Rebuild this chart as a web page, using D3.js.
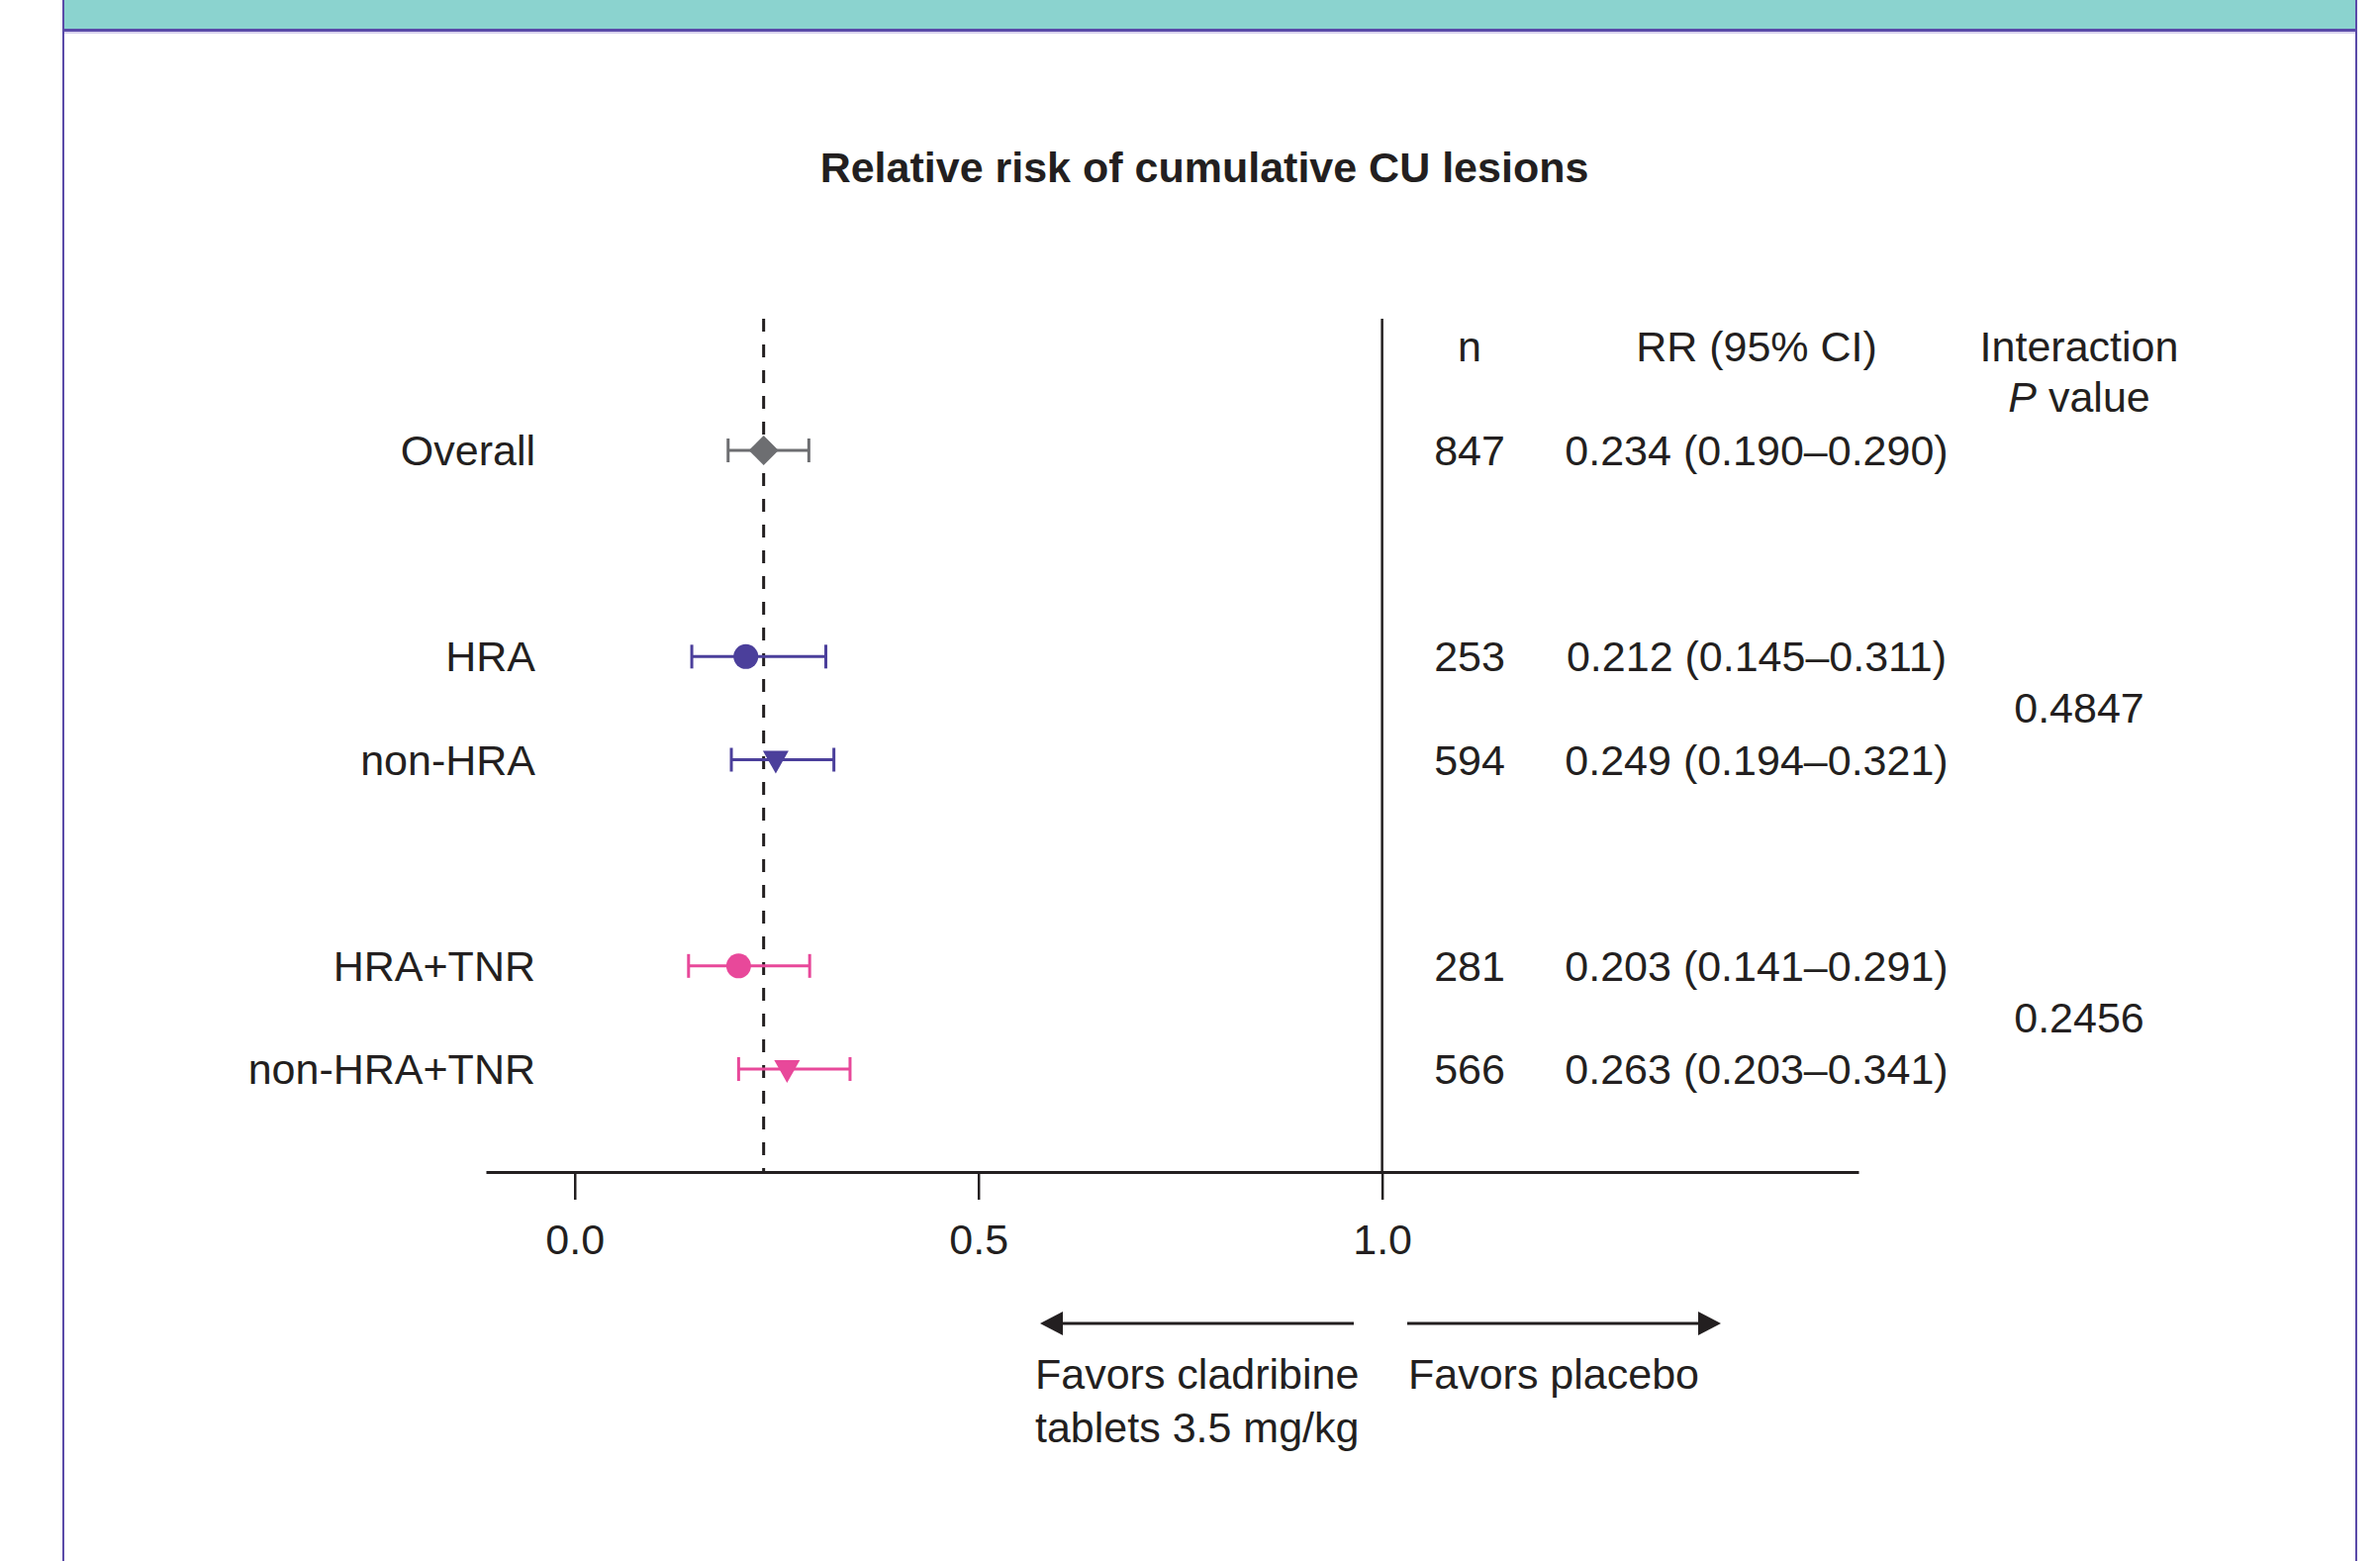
<!DOCTYPE html>
<html lang="en">
<head>
<meta charset="UTF-8">
<title>Relative risk of cumulative CU lesions</title>
<style>
    html, body {
        margin: 0;
        padding: 0;
        background: #ffffff;
    }
    svg text {
        font-family: 'Liberation Sans', Arial, sans-serif;
        font-size: 43px;
        fill: #231f20;
    }
</style>
</head>
<body>
<div id="chart"></div>

<script src="https://d3js.org/d3.v7.min.js"></script>
<script>
    // Subgroups, in order from top to bottom
    const groups = ["Overall", "HRA", "non-HRA", "HRA+TNR", "non-HRA+TNR"];
    const slots = [0, 2, 3, 5, 6];           // vertical slot of each row (gaps between blocks)
    const nValues = [847, 253, 594, 281, 566];
    const rr = [0.234, 0.212, 0.249, 0.203, 0.263];
    const ciLow = [0.190, 0.145, 0.194, 0.141, 0.203];
    const ciHigh = [0.290, 0.311, 0.321, 0.291, 0.341];
    const shapes = ["diamond", "circle", "triangle", "circle", "triangle"];
    const colorKey = ["overall", "hra", "hra", "tnr", "tnr"];

    // Interaction P values, one per pair of rows
    const pValues = ["0.4847", "0.2456"];
    const pRows = [[1, 2], [3, 4]];

    const tickValues = [0, 0.5, 1.0];

    const width = 2405;
    const height = 1577;

    const colors = {
        overall: "#6d6e71",
        hra: "#4b3f9b",
        tnr: "#e8489a"
    };

    const svg = d3.select("#chart")
        .append("svg")
        .attr("width", width)
        .attr("height", height);

    // Panel frame: teal band on top, purple borders
    svg.append("rect")
        .attr("x", 64).attr("y", 0)
        .attr("width", 2317).attr("height", 29)
        .attr("fill", "#8bd3cf");
    svg.append("rect")
        .attr("x", 64).attr("y", 29)
        .attr("width", 2317).attr("height", 3)
        .attr("fill", "#5a4aa8");
    svg.append("rect")
        .attr("x", 64).attr("y", 32)
        .attr("width", 2317).attr("height", 2)
        .attr("fill", "#d8d2ee");
    svg.append("line")
        .attr("x1", 64).attr("x2", 64)
        .attr("y1", 0).attr("y2", height)
        .attr("stroke", "#5a4aa8").attr("stroke-width", 2);
    svg.append("line")
        .attr("x1", 2381).attr("x2", 2381)
        .attr("y1", 0).attr("y2", height)
        .attr("stroke", "#5a4aa8").attr("stroke-width", 2);

    // Scales
    const x = d3.scaleLinear()
        .domain([-0.11, 1.59])
        .range([491, 1878]);

    const y = d3.scaleLinear()
        .domain([0, 6])
        .range([455, 1080]);

    const topY = 322;
    const axisY = 1184;

    // Title
    svg.append("text")
        .attr("x", 1217)
        .attr("y", 184)
        .attr("text-anchor", "middle")
        .style("font-weight", "bold")
        .text("Relative risk of cumulative CU lesions");

    // Axis
    const axis = d3.axisBottom(x)
        .tickValues(tickValues)
        .tickFormat(d3.format(".1f"))
        .tickSize(28)
        .tickSizeOuter(0)
        .tickPadding(24);

    const gAxis = svg.append("g")
        .attr("transform", `translate(0,${axisY})`)
        .call(axis);

    gAxis.select(".domain")
        .attr("stroke", "#231f20")
        .attr("stroke-width", 3);
    gAxis.selectAll(".tick line")
        .attr("stroke", "#231f20")
        .attr("stroke-width", 2.5);
    gAxis.selectAll(".tick text")
        .attr("font-size", null)
        .attr("font-family", null)
        .attr("fill", "#231f20");
    gAxis.attr("font-size", null).attr("font-family", null);

    // Reference line at 1.0 and dashed line at the overall RR
    svg.append("line")
        .attr("x1", x(1)).attr("x2", x(1))
        .attr("y1", topY).attr("y2", axisY)
        .attr("stroke", "#231f20")
        .attr("stroke-width", 2.5);

    svg.append("line")
        .attr("x1", x(rr[0])).attr("x2", x(rr[0]))
        .attr("y1", topY).attr("y2", axisY)
        .attr("stroke", "#231f20")
        .attr("stroke-width", 3)
        .attr("stroke-dasharray", "13,13");

    // Rows
    const rows = groups.map((g, i) => ({
        name: g,
        y: y(slots[i]),
        n: nValues[i],
        rr: rr[i],
        lo: ciLow[i],
        hi: ciHigh[i],
        shape: shapes[i],
        color: colors[colorKey[i]]
    }));

    const fmt = d3.format(".3f");
    const capHalf = 12;

    const row = svg.append("g")
        .selectAll("g")
        .data(rows)
        .enter().append("g");

    row.append("text")
        .attr("x", 541)
        .attr("y", d => d.y)
        .attr("dy", "0.35em")
        .attr("text-anchor", "end")
        .text(d => d.name);

    row.append("line")
        .attr("x1", d => x(d.lo)).attr("x2", d => x(d.hi))
        .attr("y1", d => d.y).attr("y2", d => d.y)
        .attr("stroke", d => d.color)
        .attr("stroke-width", 3);

    row.append("line")
        .attr("x1", d => x(d.lo)).attr("x2", d => x(d.lo))
        .attr("y1", d => d.y - capHalf).attr("y2", d => d.y + capHalf)
        .attr("stroke", d => d.color)
        .attr("stroke-width", 3);

    row.append("line")
        .attr("x1", d => x(d.hi)).attr("x2", d => x(d.hi))
        .attr("y1", d => d.y - capHalf).attr("y2", d => d.y + capHalf)
        .attr("stroke", d => d.color)
        .attr("stroke-width", 3);

    row.append("path")
        .attr("transform", d => `translate(${x(d.rr)},${d.y})`)
        .attr("fill", d => d.color)
        .attr("d", d => {
            if (d.shape === "diamond") return "M0,-15L15,0L0,15L-15,0Z";
            if (d.shape === "triangle") return "M-13,-9L13,-9L0,14Z";
            return d3.arc()({innerRadius: 0, outerRadius: 12.5, startAngle: 0, endAngle: 2 * Math.PI});
        });

    row.append("text")
        .attr("x", 1485)
        .attr("y", d => d.y)
        .attr("dy", "0.35em")
        .attr("text-anchor", "middle")
        .text(d => d.n);

    row.append("text")
        .attr("x", 1775)
        .attr("y", d => d.y)
        .attr("dy", "0.35em")
        .attr("text-anchor", "middle")
        .text(d => `${fmt(d.rr)} (${fmt(d.lo)}\u2013${fmt(d.hi)})`);

    // Column headers
    const headY = 350;
    svg.append("text")
        .attr("x", 1485).attr("y", headY).attr("dy", "0.35em")
        .attr("text-anchor", "middle")
        .text("n");
    svg.append("text")
        .attr("x", 1775).attr("y", headY).attr("dy", "0.35em")
        .attr("text-anchor", "middle")
        .text("RR (95% CI)");
    svg.append("text")
        .attr("x", 2101).attr("y", headY).attr("dy", "0.35em")
        .attr("text-anchor", "middle")
        .text("Interaction");
    const pHead = svg.append("text")
        .attr("x", 2101).attr("y", 401).attr("dy", "0.35em")
        .attr("text-anchor", "middle");
    pHead.append("tspan").style("font-style", "italic").text("P");
    pHead.append("tspan").text(" value");

    // Interaction P values, centred between their two rows
    svg.append("g")
        .selectAll("text")
        .data(pValues)
        .enter().append("text")
        .attr("x", 2101)
        .attr("y", (d, i) => (rows[pRows[i][0]].y + rows[pRows[i][1]].y) / 2)
        .attr("dy", "0.35em")
        .attr("text-anchor", "middle")
        .text(d => d);

    // Direction arrows
    const arrowY = 1337;
    svg.append("line")
        .attr("x1", 1368).attr("x2", 1072)
        .attr("y1", arrowY).attr("y2", arrowY)
        .attr("stroke", "#231f20").attr("stroke-width", 3);
    svg.append("path")
        .attr("d", `M1051,${arrowY}L1074,${arrowY - 12}L1074,${arrowY + 12}Z`)
        .attr("fill", "#231f20");
    svg.append("line")
        .attr("x1", 1422).attr("x2", 1719)
        .attr("y1", arrowY).attr("y2", arrowY)
        .attr("stroke", "#231f20").attr("stroke-width", 3);
    svg.append("path")
        .attr("d", `M1739,${arrowY}L1716,${arrowY - 12}L1716,${arrowY + 12}Z`)
        .attr("fill", "#231f20");

    svg.append("text")
        .attr("x", 1046).attr("y", 1388).attr("dy", "0.35em")
        .text("Favors cladribine");
    svg.append("text")
        .attr("x", 1046).attr("y", 1442).attr("dy", "0.35em")
        .text("tablets 3.5 mg/kg");
    svg.append("text")
        .attr("x", 1423).attr("y", 1388).attr("dy", "0.35em")
        .text("Favors placebo");
</script>
</body>
</html>
